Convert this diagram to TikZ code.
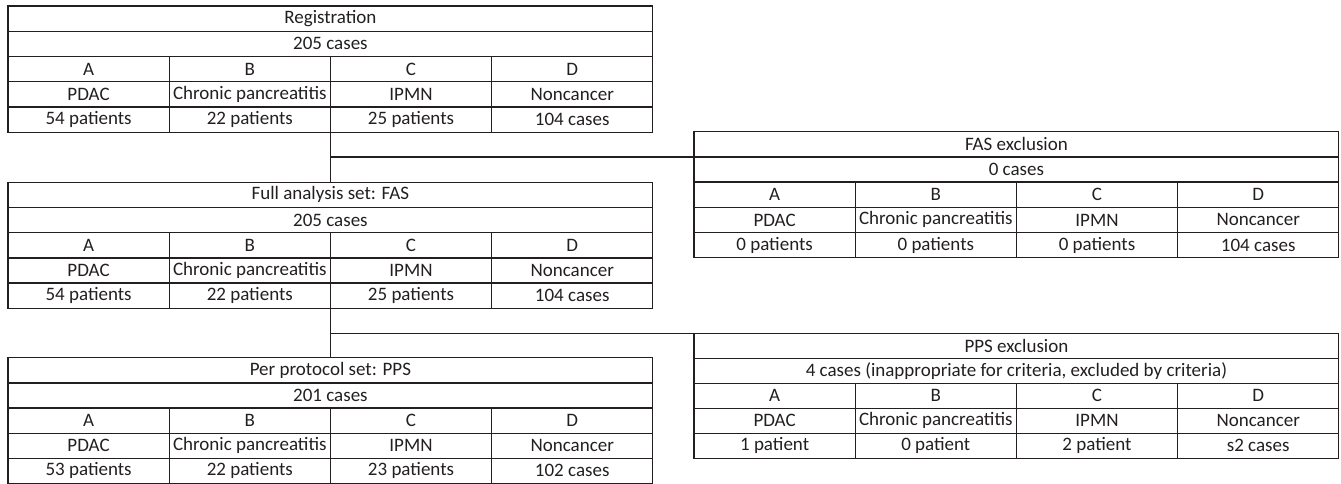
\documentclass[tikz,border=0pt]{standalone}
\usepackage{fontspec}
\setmainfont{Carlito}
\definecolor{ink}{RGB}{35,31,32}
\tikzset{
  cellbase/.style={draw=ink, line width=1.3pt, anchor=north west, inner sep=0pt, outer sep=0pt,
    text=ink, font=\fontsize{19}{22}\selectfont},
  wcell/.style={cellbase, minimum width=644.8pt},
  qcell/.style={cellbase, minimum width=161.2pt},
  conn/.style={draw=ink, line width=1.3pt}
}
% wide row: name, x, y, height, text
\newcommand{\wrow}[5]{\node[wcell, minimum height=#4pt] (#1) at (#2,#3) {#5};}
% four-cell row: prefix, x, y, height, a, b, c, d
\newcommand{\qrow}[8]{%
  \node[qcell, minimum height=#4pt] (#1a) at (#2,#3) {#5};
  \node[qcell, minimum height=#4pt] (#1b) at ({#2+161.2},#3) {#6};
  \node[qcell, minimum height=#4pt] (#1c) at ({#2+322.4},#3) {#7};
  \node[qcell, minimum height=#4pt] (#1d) at ({#2+483.6},#3) {#8};}
\begin{document}
\begin{tikzpicture}[x=1pt,y=-1pt]
\useasboundingbox (0,0) rectangle (1341,483);
% Registration
\wrow{reg-t}{8}{6}{25.25}{Registration}
\wrow{reg-n}{8}{31.25}{25.25}{205 cases}
\qrow{reg-h}{8}{56.5}{25.25}{A}{B}{C}{D}
\qrow{reg-g}{8}{81.75}{25.25}{PDAC}{Chronic pancreatitis}{IPMN}{Noncancer}
\qrow{reg-p}{8}{107}{25.25}{54 patients}{22 patients}{25 patients}{104 cases}
% FAS exclusion
\wrow{fx-t}{694}{131.7}{25.2}{FAS exclusion}
\wrow{fx-n}{694}{156.9}{25.2}{0 cases}
\qrow{fx-h}{694}{182.1}{25.2}{A}{B}{C}{D}
\qrow{fx-g}{694}{207.3}{25.2}{PDAC}{Chronic pancreatitis}{IPMN}{Noncancer}
\qrow{fx-p}{694}{232.5}{25.2}{0 patients}{0 patients}{0 patients}{104 cases}
% FAS
\wrow{fas-t}{8}{182.3}{25.2}{Full analysis set: FAS}
\wrow{fas-n}{8}{207.5}{25.2}{205 cases}
\qrow{fas-h}{8}{232.7}{25.2}{A}{B}{C}{D}
\qrow{fas-g}{8}{257.9}{25.2}{PDAC}{Chronic pancreatitis}{IPMN}{Noncancer}
\qrow{fas-p}{8}{283.1}{25.2}{54 patients}{22 patients}{25 patients}{104 cases}
% PPS exclusion
\wrow{px-t}{694}{333.3}{25}{PPS exclusion}
\wrow{px-n}{694}{358.3}{25}{4 cases (inappropriate for criteria, excluded by criteria)}
\qrow{px-h}{694}{383.3}{25}{A}{B}{C}{D}
\qrow{px-g}{694}{408.3}{25}{PDAC}{Chronic pancreatitis}{IPMN}{Noncancer}
\qrow{px-p}{694}{433.3}{25}{1 patient}{0 patient}{2 patient}{s2 cases}
% PPS
\wrow{pps-t}{8}{357.7}{25.15}{Per protocol set: PPS}
\wrow{pps-n}{8}{382.85}{25.15}{201 cases}
\qrow{pps-h}{8}{408}{25.15}{A}{B}{C}{D}
\qrow{pps-g}{8}{433.15}{25.15}{PDAC}{Chronic pancreatitis}{IPMN}{Noncancer}
\qrow{pps-p}{8}{458.3}{25.15}{53 patients}{22 patients}{23 patients}{102 cases}
% connectors
\draw[conn] (reg-pb.south east) -- (reg-pb.south east |- fas-t.north);
\draw[conn] (reg-pb.south east |- fx-t.south west) -- (fx-t.south west);
\draw[conn] (fas-pb.south east) -- (fas-pb.south east |- pps-t.north);
\draw[conn] (fas-pb.south east |- px-t.north west) -- (px-t.north west);
\end{tikzpicture}
\end{document}
